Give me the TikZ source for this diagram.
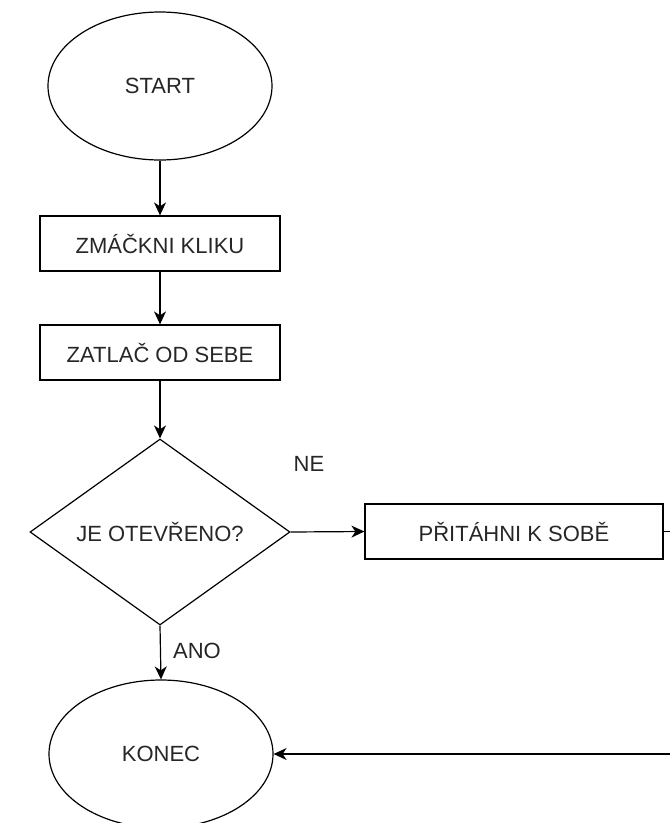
\documentclass[tikz,border=0pt]{standalone}
\usepackage{fontspec}
\setmainfont{Liberation Sans}
\usetikzlibrary{shapes.geometric,arrows.meta}
\definecolor{txt}{HTML}{262626}
\begin{document}
\begin{tikzpicture}[x=1pt,y=-1pt,
  every node/.style={font=\fontsize{22}{26}\selectfont, text=txt},
  base/.style={draw=black, line width=1.2pt, inner sep=0pt},
  term/.style={base, ellipse, minimum width=224pt, minimum height=148pt},
  proc/.style={base, rectangle, minimum height=55pt},
  decis/.style={base, diamond, minimum width=260pt, minimum height=186pt, shape aspect=1.4},
  conn/.style={draw=black, line width=1.2pt, -{Stealth[length=13pt,width=12pt,inset=4pt]}},
  lab/.style={inner sep=0pt}]
\useasboundingbox (0,0) rectangle (670,823);
\clip (0,0) rectangle (670,823);
\node[term] (start) at (160,86) {START};
\node[proc, minimum width=240pt] (n1) at (160,243.5) {ZMÁČKNI KLIKU};
\node[proc, minimum width=240pt] (n2) at (160,352.5) {ZATLAČ OD SEBE};
\node[decis] (dec) at (160,532) {JE OTEVŘENO?};
\node[proc, minimum width=298pt] (pull) at (514,531.5) {PŘITÁHNI K SOBĚ};
\node[term] (end) at (161,754) {KONEC};
\node[lab] (ne) at (309,464) {NE};
\node[lab] (ano) at (197,650.5) {ANO};
\coordinate (c1) at (700,531.5);
\draw[conn] (start.south) -- (n1.north);
\draw[conn] (n1.south) -- (n2.north);
\draw[conn] (n2.south) -- (dec.north);
\draw[conn] (dec.east) -- (pull.west);
\draw[conn] (dec.south) -- (end.north);
\draw[conn] (pull.east) -- (c1) |- (end.east);
\end{tikzpicture}
\end{document}
